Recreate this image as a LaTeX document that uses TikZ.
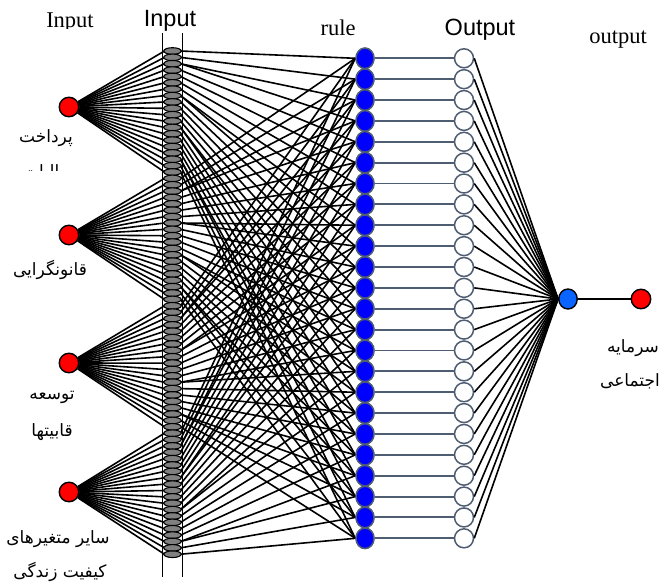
\documentclass[tikz,border=0pt]{standalone}
\usepackage{fontspec}
\usetikzlibrary{shapes.geometric}
\setmainfont{Liberation Serif}
\newfontfamily\sansf{Liberation Sans}
\newfontfamily\fafont[Script=Arabic]{DejaVu Sans}
\TeXXeTstate=1
\newcommand\fa[1]{{\fafont\beginR #1\endR}}
\definecolor{slate}{HTML}{4E5D72}
\definecolor{azure}{HTML}{0A64FF}

\begin{document}
\begin{tikzpicture}[x=1pt,y=-1pt,
  innode/.style={circle, draw=black, fill=red, line width=1.4pt, minimum size=19.5pt, inner sep=0pt},
  mfnode/.style={ellipse, draw=black, fill=gray, line width=1.1pt, minimum width=17.5pt, minimum height=6.6pt, inner sep=0pt},
  rulenode/.style={ellipse, draw=slate, fill=blue, line width=1.4pt, minimum width=18pt, minimum height=20.5pt, inner sep=0pt},
  outnode/.style={circle, draw=slate, fill=white, line width=1.5pt, minimum size=19pt, inner sep=0pt},
  sumnode/.style={ellipse, draw=black, fill=azure, line width=1.4pt, minimum width=18.5pt, minimum height=20pt, inner sep=0pt},
  link/.style={draw=black, line width=1.6pt},
  slink/.style={draw=slate, line width=1.9pt},
  serifhead/.style={font=\fontsize{22.5}{26}\selectfont, inner sep=0pt, anchor=base},
  sanshead/.style={font=\sansf\fontsize{23.5}{27}\selectfont, inner sep=0pt, anchor=base},
  falabel/.style={font=\fafont\fontsize{17}{20}\selectfont, inner sep=0pt}
]
\useasboundingbox (0,0) rectangle (665,584);

% ---- column headings
\begin{scope}
  \clip (0,0) rectangle (130,28.5);
  \node[serifhead] (hin) at (70,27) {Input};
\end{scope}
\node[sanshead] (hmf) at (170,26) {Input};
\node[serifhead] (hrule) at (338,35) {rule};
\node[sanshead] (hout) at (480,35) {Output};
\node[serifhead] (hres) at (618,43) {output};

% ---- input nodes
\node[innode] (in0) at (69,107) {};
\node[innode] (in1) at (69,235) {};
\node[innode] (in2) at (69,363) {};
\node[innode] (in3) at (69,492) {};

% ---- membership layer: 4 groups of 20 stacked ellipses
\foreach \k in {0,...,79}{
  \coordinate (mc\k) at (172.5,{51+\k*6.37});
}
% fan from each input to its own group
\foreach \g in {0,...,3}{
  \foreach \i in {0,...,19}{
    \pgfmathtruncatemacro\idx{20*\g+\i}
    \draw[link] (in\g) -- ([xshift=-8pt]mc\idx);
  }
}

% ---- rule and output layers
\foreach \j in {0,...,23}{
  \node[rulenode] (r\j) at (365,{58.3+\j*20.87}) {};
  \node[outnode] (o\j) at (464,{58.3+\j*20.87}) {};
}
% each rule takes one term of every input
\foreach \j in {0,...,23}{
  \foreach \g in {0,...,3}{
    \pgfmathtruncatemacro\idx{20*\g+round(\j*19/23)}
    \draw[link] ([xshift=8pt]mc\idx) -- (r\j.west);
  }
}

% ---- stacked membership ellipses inside the column
\draw[line width=1.4pt] (162.5,33) -- (162.5,577);
\draw[line width=1.4pt] (182.5,33) -- (182.5,577);
\foreach \k in {0,...,79}{
  \node[mfnode] (m\k) at (mc\k) {};
}

% redraw rule nodes over their links
\foreach \j in {0,...,23}{
  \node[rulenode] at (r\j) {};
}

\node[sumnode] (sum) at (568,299) {};
\node[innode] (res) at (641,299) {};
\foreach \j in {0,...,23}{
  \draw[slink] (r\j) -- (o\j);
  \draw[link] (o\j.east) -- (sum.west);
}
\draw[link] (sum) -- (res);

% ---- labels
\node[falabel] (l0) at (46,138) {\fa{پرداخت}};
\begin{scope}
  \clip (0,160) rectangle (130,170);
  \node[falabel] (l0b) at (46,172) {\fa{مالیات}};
\end{scope}
\node[falabel] (l1) at (50,270) {\fa{قانونگرایی}};
\node[falabel] (l2a) at (52,397) {\fa{توسعه}};
\node[falabel] (l2b) at (52,432) {\fa{قابیتها}};
\node[falabel] (l3a) at (58,539) {\fa{سایر متغیرهای}};
\node[falabel] (l3b) at (60,572) {\fa{کیفیت زندگی}};
\node[falabel] (r0a) at (633,348) {\fa{سرمایه}};
\node[falabel] (r0b) at (630,381) {\fa{اجتماعی}};
\end{tikzpicture}
\end{document}
